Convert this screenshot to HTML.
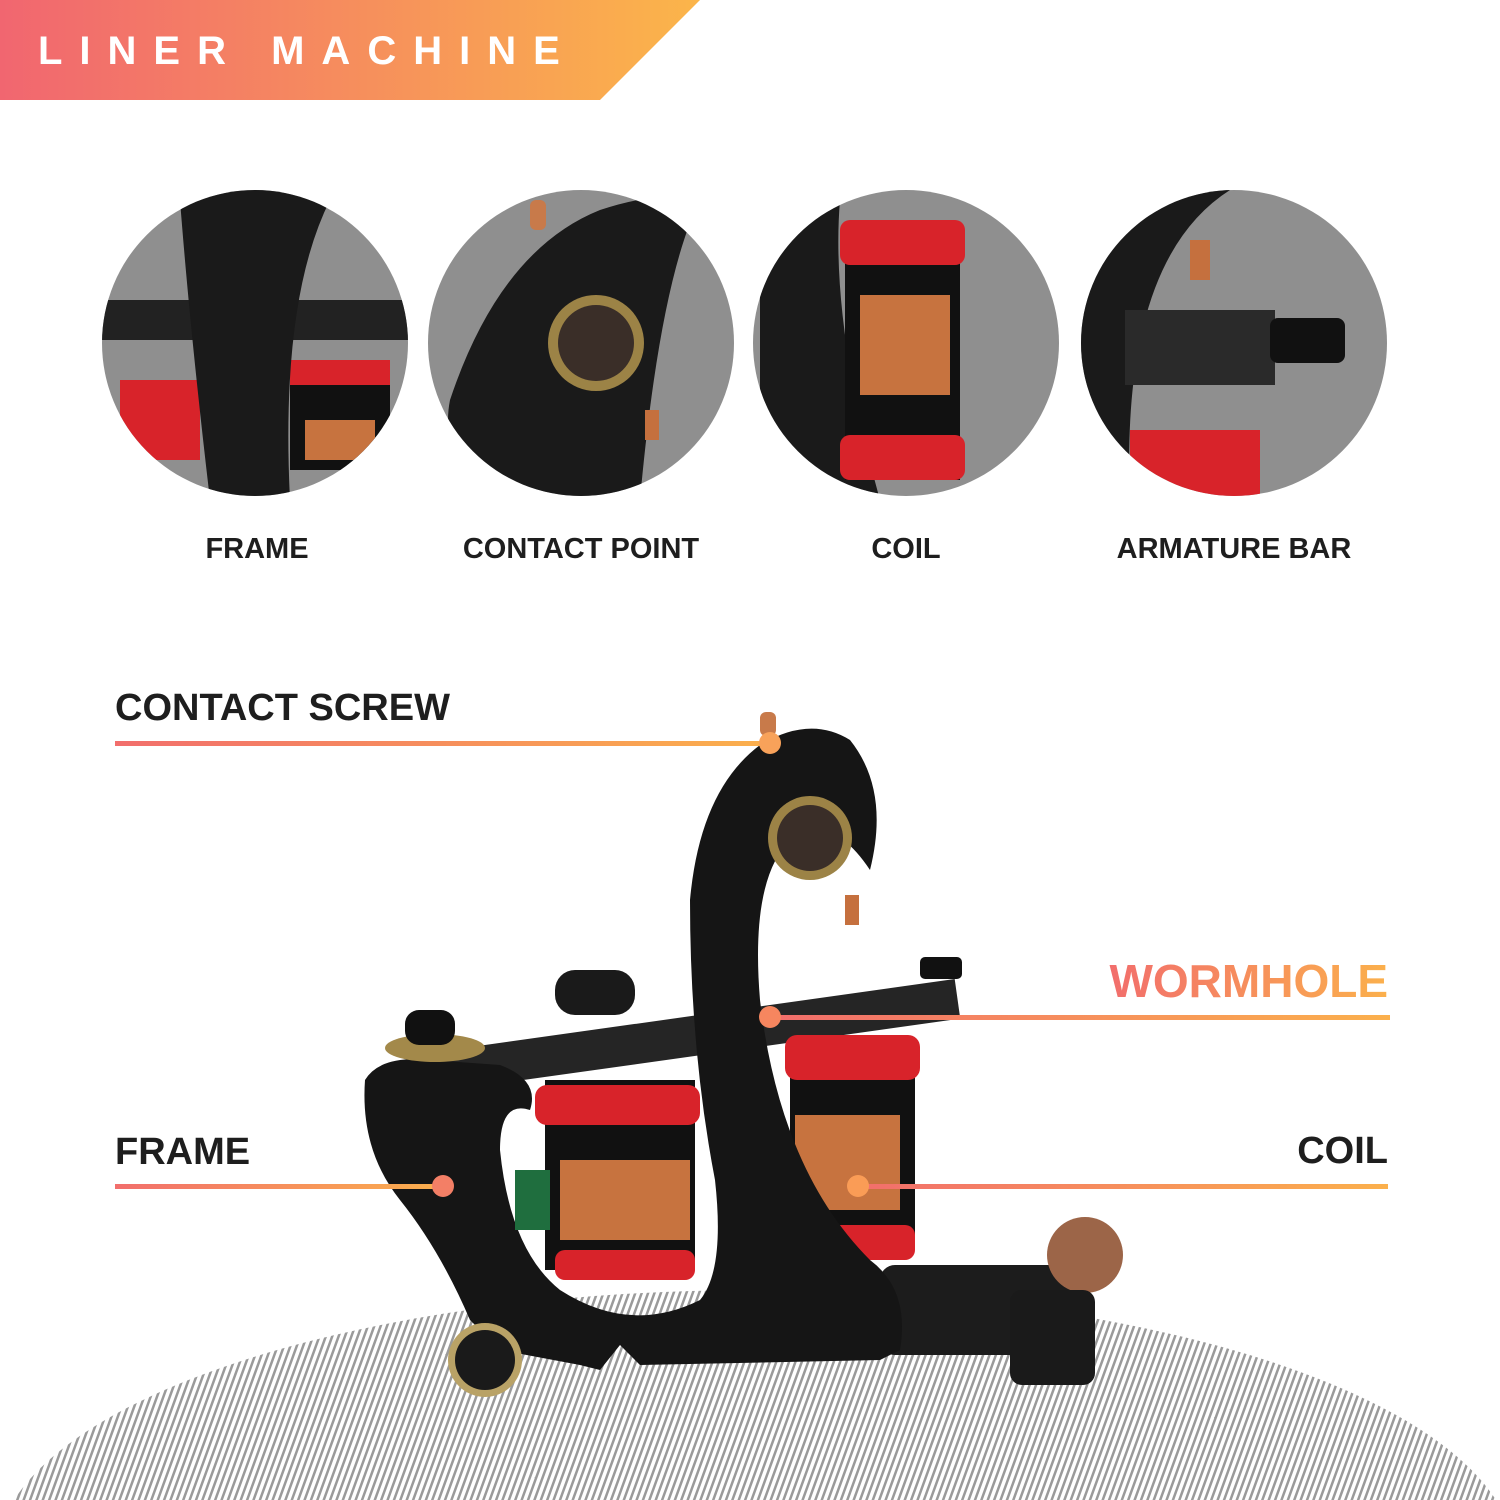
<!DOCTYPE html>
<html><head><meta charset="utf-8"><style>
html,body{margin:0;padding:0;background:#fff;overflow:hidden}
body{width:1500px;height:1500px;position:relative;overflow:hidden;font-family:"Liberation Sans",sans-serif}
svg{display:block}
.t{position:absolute;font-weight:bold;color:#1e1e1e;white-space:nowrap;line-height:1.15}
</style></head><body>
<svg width="1500" height="1500" style="position:absolute;left:0;top:0">
<defs>
<linearGradient id="bn" x1="0" x2="1"><stop offset="0" stop-color="#f16670"/><stop offset="1" stop-color="#fbb54a"/></linearGradient>
<linearGradient id="ln" x1="0" x2="1"><stop offset="0" stop-color="#f26e6c"/><stop offset="1" stop-color="#fbb04c"/></linearGradient>
<pattern id="hatch" width="6" height="6" patternUnits="userSpaceOnUse" patternTransform="rotate(20)"><rect width="6" height="6" fill="#fff"/><rect width="2.5" height="6" fill="#9a9a9a"/></pattern>
<clipPath id="c1"><circle cx="255" cy="343" r="153"/></clipPath>
<clipPath id="c2"><circle cx="581" cy="343" r="153"/></clipPath>
<clipPath id="c3"><circle cx="906" cy="343" r="153"/></clipPath>
<clipPath id="c4"><circle cx="1234" cy="343" r="153"/></clipPath>
</defs>
<polygon points="0,0 700,0 600,100 0,100" fill="url(#bn)"/>
<path d="M14,1500 A760,270 0 0 1 1496,1500 Z" fill="url(#hatch)"/>
<g clip-path="url(#c1)"><rect x="100" y="190" width="310" height="310" fill="#8f8f8f"/>
<rect x="100" y="300" width="310" height="40" fill="#222"/><rect x="290" y="360" width="100" height="110" fill="#111"/><rect x="290" y="360" width="100" height="25" fill="#d8232a"/><rect x="305" y="420" width="70" height="40" fill="#c7733f"/><rect x="120" y="380" width="80" height="80" fill="#d8232a"/>
<path d="M180,200 Q260,180 330,200 Q280,300 290,500 L210,500 Q190,330 180,200Z" fill="#1a1a1a"/></g>
<g clip-path="url(#c2)"><rect x="420" y="190" width="330" height="310" fill="#8f8f8f"/>
<path d="M450,400 Q500,250 600,210 Q660,190 700,200 Q660,280 640,500 L480,500 Q440,450 450,400Z" fill="#1a1a1a"/>
<circle cx="596" cy="343" r="48" fill="#9c8346"/><circle cx="596" cy="343" r="38" fill="#3a2e28"/><rect x="530" y="200" width="16" height="30" rx="6" fill="#c87a4a"/><rect x="645" y="410" width="14" height="30" fill="#c5703e"/></g>
<g clip-path="url(#c3)"><rect x="750" y="190" width="320" height="310" fill="#8f8f8f"/>
<path d="M760,200 L840,200 Q830,320 880,500 L760,500Z" fill="#1a1a1a"/>
<rect x="845" y="230" width="115" height="250" fill="#111"/><rect x="840" y="220" width="125" height="45" rx="10" fill="#d8232a"/><rect x="840" y="435" width="125" height="45" rx="10" fill="#d8232a"/><rect x="860" y="295" width="90" height="100" fill="#c7733f"/></g>
<g clip-path="url(#c4)"><rect x="1075" y="190" width="320" height="310" fill="#8f8f8f"/>
<path d="M1080,190 L1230,190 Q1120,260 1130,500 L1080,500Z" fill="#1a1a1a"/>
<rect x="1125" y="310" width="150" height="75" fill="#2a2a2a"/><rect x="1270" y="318" width="75" height="45" rx="8" fill="#111"/><rect x="1130" y="430" width="130" height="70" fill="#d8232a"/><rect x="1190" y="240" width="20" height="40" fill="#c5703e"/></g>
<rect x="880" y="1265" width="210" height="90" rx="15" fill="#1c1c1c"/>
<circle cx="1085" cy="1255" r="38" fill="#9c6548"/>
<rect x="1010" y="1290" width="85" height="95" rx="12" fill="#1a1a1a"/>
<rect x="440" y="1015" width="520" height="40" fill="#252525" transform="rotate(-8 700 1035)"/>
<rect x="920" y="957" width="42" height="22" rx="5" fill="#111"/>
<rect x="545" y="1080" width="150" height="190" fill="#111"/>
<rect x="535" y="1085" width="165" height="40" rx="12" fill="#d8232a"/><rect x="555" y="1250" width="140" height="30" rx="10" fill="#d8232a"/>
<rect x="560" y="1160" width="130" height="80" fill="#c7733f"/>
<rect x="790" y="1040" width="125" height="210" fill="#111"/>
<rect x="785" y="1035" width="135" height="45" rx="12" fill="#d8232a"/><rect x="790" y="1225" width="125" height="35" rx="10" fill="#d8232a"/>
<rect x="795" y="1115" width="105" height="95" fill="#c7733f"/>
<path d="M365,1080 Q380,1055 430,1060 L500,1065 Q540,1080 530,1110 Q500,1100 500,1150 Q510,1250 560,1290 Q630,1335 700,1300 Q725,1270 715,1180 Q690,1050 690,900 Q700,790 760,745 Q810,715 850,740 Q890,790 870,870 Q830,810 790,840 Q750,880 760,1000 Q780,1170 870,1260 Q910,1290 900,1350 L880,1360 L640,1365 L620,1345 L600,1370 L580,1365 L500,1350 L470,1320 Q440,1250 400,1200 Q360,1150 365,1080Z" fill="#151515"/>
<circle cx="810" cy="838" r="42" fill="#9c8346"/><circle cx="810" cy="838" r="33" fill="#3a2e28"/>
<circle cx="485" cy="1360" r="37" fill="#b9a266"/><circle cx="485" cy="1360" r="30" fill="#1a1a1a"/>
<ellipse cx="435" cy="1048" rx="50" ry="14" fill="#a3894a"/><rect x="405" y="1010" width="50" height="35" rx="14" fill="#111"/>
<rect x="555" y="970" width="80" height="45" rx="20" fill="#1a1a1a"/>
<rect x="515" y="1170" width="35" height="60" fill="#1f6e3e"/>
<rect x="760" y="712" width="16" height="24" rx="6" fill="#c87a4a"/>
<rect x="845" y="895" width="14" height="30" fill="#c5703e"/>
<rect x="115" y="741" width="655" height="5" fill="url(#ln)"/><circle cx="770" cy="743" r="11" fill="#f8a25a"/>
<rect x="770" y="1015" width="620" height="5" fill="url(#ln)"/><circle cx="770" cy="1017" r="11" fill="#f6865f"/>
<rect x="115" y="1184" width="330" height="5" fill="url(#ln)"/><circle cx="443" cy="1186" r="11" fill="#f37f66"/>
<rect x="858" y="1184" width="530" height="5" fill="url(#ln)"/><circle cx="858" cy="1186" r="11" fill="#fa9c56"/>
<text x="1388" y="997" text-anchor="end" font-family="Liberation Sans,sans-serif" font-weight="bold" font-size="46" fill="url(#ln)">WORMHOLE</text>
</svg>
<div class="t" style="left:38px;top:28px;font-size:40px;color:#fff;letter-spacing:17px">LINER MACHINE</div>
<div class="t" style="left:157px;width:200px;text-align:center;top:533px;font-size:29px">FRAME</div>
<div class="t" style="left:431px;width:300px;text-align:center;top:533px;font-size:29px">CONTACT POINT</div>
<div class="t" style="left:806px;width:200px;text-align:center;top:533px;font-size:29px">COIL</div>
<div class="t" style="left:1084px;width:300px;text-align:center;top:533px;font-size:29px">ARMATURE BAR</div>
<div class="t" style="left:115px;top:687px;font-size:38px">CONTACT SCREW</div>
<div class="t" style="left:115px;top:1131px;font-size:38px">FRAME</div>
<div class="t" style="right:112px;top:1130px;font-size:38px">COIL</div>
</body></html>
